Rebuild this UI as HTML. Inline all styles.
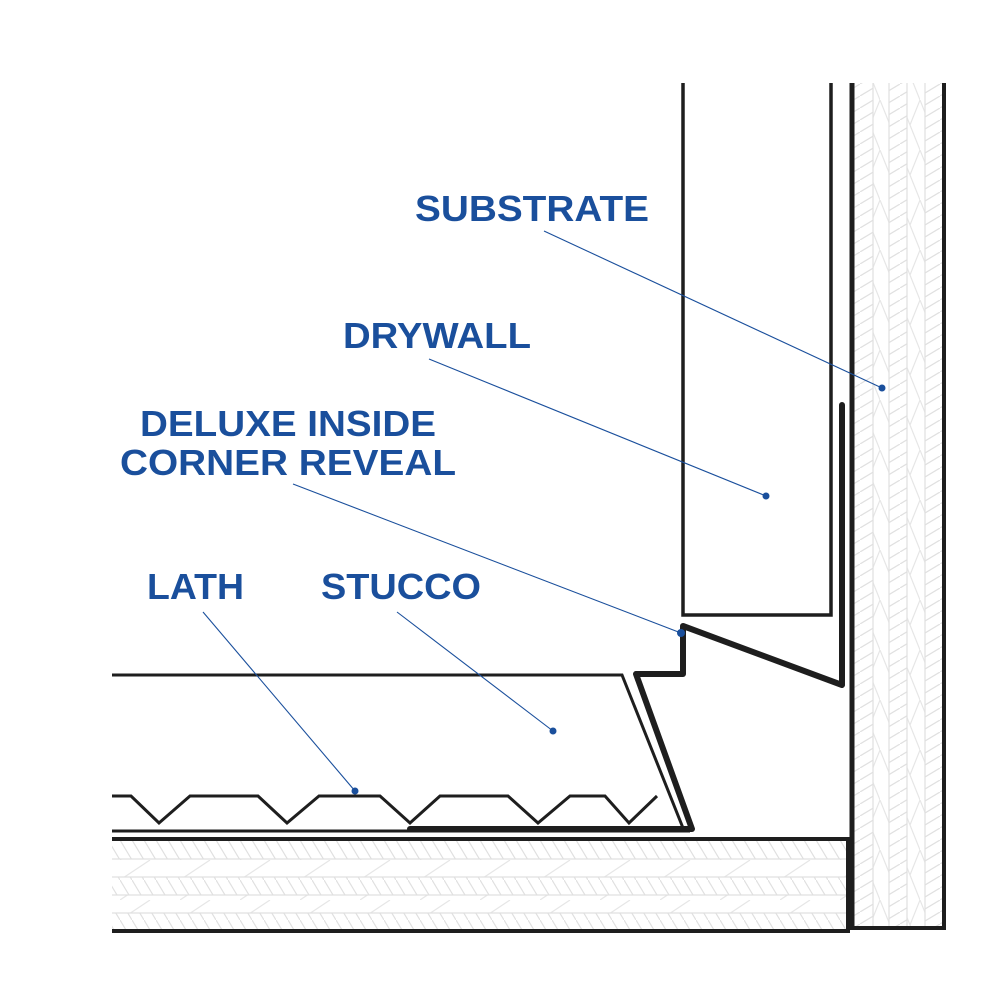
<!DOCTYPE html>
<html><head><meta charset="utf-8"><style>html,body{margin:0;padding:0;background:#fff}svg{display:block}</style></head>
<body>
<svg width="1000" height="1000" viewBox="0 0 1000 1000" xmlns="http://www.w3.org/2000/svg">
<defs>
<pattern id="hv" width="20" height="12" patternUnits="userSpaceOnUse"><path d="M0,12 L20,0" stroke="#e0e0e0" stroke-width="1.2"/></pattern>
<pattern id="cv" width="20" height="50" patternUnits="userSpaceOnUse"><path d="M0,0 L10,25 L20,50 M20,0 L10,25" stroke="#e6e6e6" stroke-width="1.2" fill="none"/></pattern>
<pattern id="hh" width="12" height="20" patternUnits="userSpaceOnUse"><path d="M0,0 L12,20" stroke="#e0e0e0" stroke-width="1.2"/></pattern>
<pattern id="ch" width="60" height="20" patternUnits="userSpaceOnUse"><path d="M0,20 L30,0" stroke="#e6e6e6" stroke-width="1.2" fill="none"/></pattern>
</defs>
<rect x="854" y="83" width="19" height="845" fill="url(#hv)"/>
<rect x="873" y="83" width="16" height="845" fill="url(#cv)"/>
<rect x="889" y="83" width="18" height="845" fill="url(#hv)"/>
<rect x="907" y="83" width="18" height="845" fill="url(#cv)"/>
<rect x="925" y="83" width="18" height="845" fill="url(#hv)"/>
<g stroke="#e0e0e0" stroke-width="1.2"><line x1="873" y1="83" x2="873" y2="928"/><line x1="889" y1="83" x2="889" y2="928"/><line x1="907" y1="83" x2="907" y2="928"/><line x1="925" y1="83" x2="925" y2="928"/></g>
<rect x="112" y="841" width="736" height="18" fill="url(#hh)"/>
<rect x="112" y="859" width="736" height="18" fill="url(#ch)"/>
<rect x="112" y="877" width="736" height="18" fill="url(#hh)"/>
<rect x="112" y="895" width="736" height="18" fill="url(#ch)"/>
<rect x="112" y="913" width="736" height="16" fill="url(#hh)"/>
<g stroke="#e0e0e0" stroke-width="1.2"><line x1="112" y1="859" x2="848" y2="859"/><line x1="112" y1="877" x2="848" y2="877"/><line x1="112" y1="895" x2="848" y2="895"/><line x1="112" y1="913" x2="848" y2="913"/></g>
<g fill="none" stroke="#1e1e1e" stroke-linejoin="miter">
<line x1="852" y1="83" x2="852" y2="930" stroke-width="5"/>
<line x1="944" y1="83" x2="944" y2="930" stroke-width="4"/>
<line x1="852" y1="928" x2="944" y2="928" stroke-width="4"/>
<line x1="112" y1="839" x2="850" y2="839" stroke-width="4"/>
<line x1="848" y1="839" x2="848" y2="931" stroke-width="4"/>
<line x1="112" y1="931" x2="850" y2="931" stroke-width="4"/>
<path d="M683,83 L683,615 L831,615 L831,83" stroke-width="3.5"/>
<path d="M112,675 L622,675 L683,828" stroke-width="3"/>
<line x1="112" y1="831" x2="690" y2="831" stroke-width="3"/>
<path d="M112,796 L131,796 L159,823 L190,796 L258,796 L287,823 L319,796 L380,796 L410,823 L440,796 L508,796 L538,823 L570,796 L605,796 L629,823 L657,796" stroke-width="3"/>
<path d="M410,829 L692,829 L636,674 L683,674 L683,626 L842,685 L842,405" stroke-width="6" stroke-linecap="round" stroke-linejoin="round"/>
</g>
<g stroke="#1a4f9c" stroke-width="1.1">
<line x1="544" y1="231" x2="882" y2="388"/>
<line x1="429" y1="359" x2="766" y2="496"/>
<line x1="293" y1="484" x2="681" y2="633"/>
<line x1="203" y1="612" x2="355" y2="791"/>
<line x1="397" y1="612" x2="553" y2="731"/>
</g>
<g fill="#1a4f9c"><circle cx="882" cy="388" r="3.5"/><circle cx="766" cy="496" r="3.5"/><circle cx="681" cy="633" r="4"/><circle cx="355" cy="791" r="3.5"/><circle cx="553" cy="731" r="3.5"/></g>
<g fill="#1a4f9c" font-family="Liberation Sans, Arial, sans-serif" font-weight="bold" font-size="36">
<text x="415" y="221" textLength="234" lengthAdjust="spacingAndGlyphs">SUBSTRATE</text>
<text x="343" y="348" textLength="188" lengthAdjust="spacingAndGlyphs">DRYWALL</text>
<text x="140" y="436" textLength="296" lengthAdjust="spacingAndGlyphs">DELUXE INSIDE</text>
<text x="120" y="475" textLength="336" lengthAdjust="spacingAndGlyphs">CORNER REVEAL</text>
<text x="147" y="599" textLength="97" lengthAdjust="spacingAndGlyphs">LATH</text>
<text x="321" y="599" textLength="160" lengthAdjust="spacingAndGlyphs">STUCCO</text>
</g>
</svg>
</body></html>
